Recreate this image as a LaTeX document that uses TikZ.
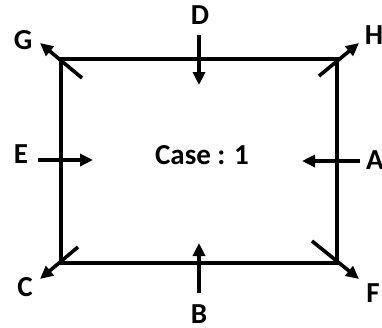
\documentclass[tikz,border=0pt]{standalone}
\usepackage{fontspec}
\setmainfont{Carlito}
\usetikzlibrary{arrows.meta}
\begin{document}
\begin{tikzpicture}[x=1pt,y=-1pt,
  edge/.style={line width=3.6pt, line join=miter},
  arr/.style={line width=3.6pt, -{Triangle[length=13pt,width=12pt]}},
  lbl/.style={font=\fontsize{29}{32}\selectfont\bfseries, inner sep=0pt},
  casetxt/.style={font=\fontsize{29}{32}\selectfont\bfseries, inner sep=0pt}]
\useasboundingbox (0,0) rectangle (382,327);
% rectangle
\coordinate (NW) at (61,59);
\coordinate (NE) at (337,59);
\coordinate (SE) at (337,263);
\coordinate (SW) at (61,263);
\draw[edge] (NW) -- (NE) -- (SE) -- (SW) -- cycle;
% labels
\node[lbl] (G) at (23,40) {G};
\node[lbl] (H) at (374,35) {H};
\node[lbl] (C) at (25,287) {C};
\node[lbl] (F) at (373,293) {F};
\node[lbl] (D) at (200,15) {D};
\node[lbl] (B) at (199,314) {B};
\node[lbl] (E) at (21,154) {E};
\node[lbl] (A) at (375,160) {A};
\node[casetxt] (case) at (202,155) {Case : 1};
% corner arrows
\coordinate (g0) at (82,78);  \coordinate (g1) at (40,43);
\coordinate (h0) at (319,76); \coordinate (h1) at (359,43);
\coordinate (c0) at (78,247); \coordinate (c1) at (40,279);
\coordinate (f0) at (312,241);\coordinate (f1) at (359,279);
\draw[arr] (g0) -- (g1);
\draw[arr] (h0) -- (h1);
\draw[arr] (c0) -- (c1);
\draw[arr] (f0) -- (f1);
% side arrows
\coordinate (d0) at (199,35);  \coordinate (d1) at (199,85);
\coordinate (b0) at (199,293); \coordinate (b1) at (199,243);
\coordinate (e0) at (38,160);  \coordinate (e1) at (93,160);
\coordinate (a0) at (360,161); \coordinate (a1) at (302,161);
\draw[arr] (d0) -- (d1);
\draw[arr] (b0) -- (b1);
\draw[arr] (e0) -- (e1);
\draw[arr] (a0) -- (a1);
\end{tikzpicture}
\end{document}
